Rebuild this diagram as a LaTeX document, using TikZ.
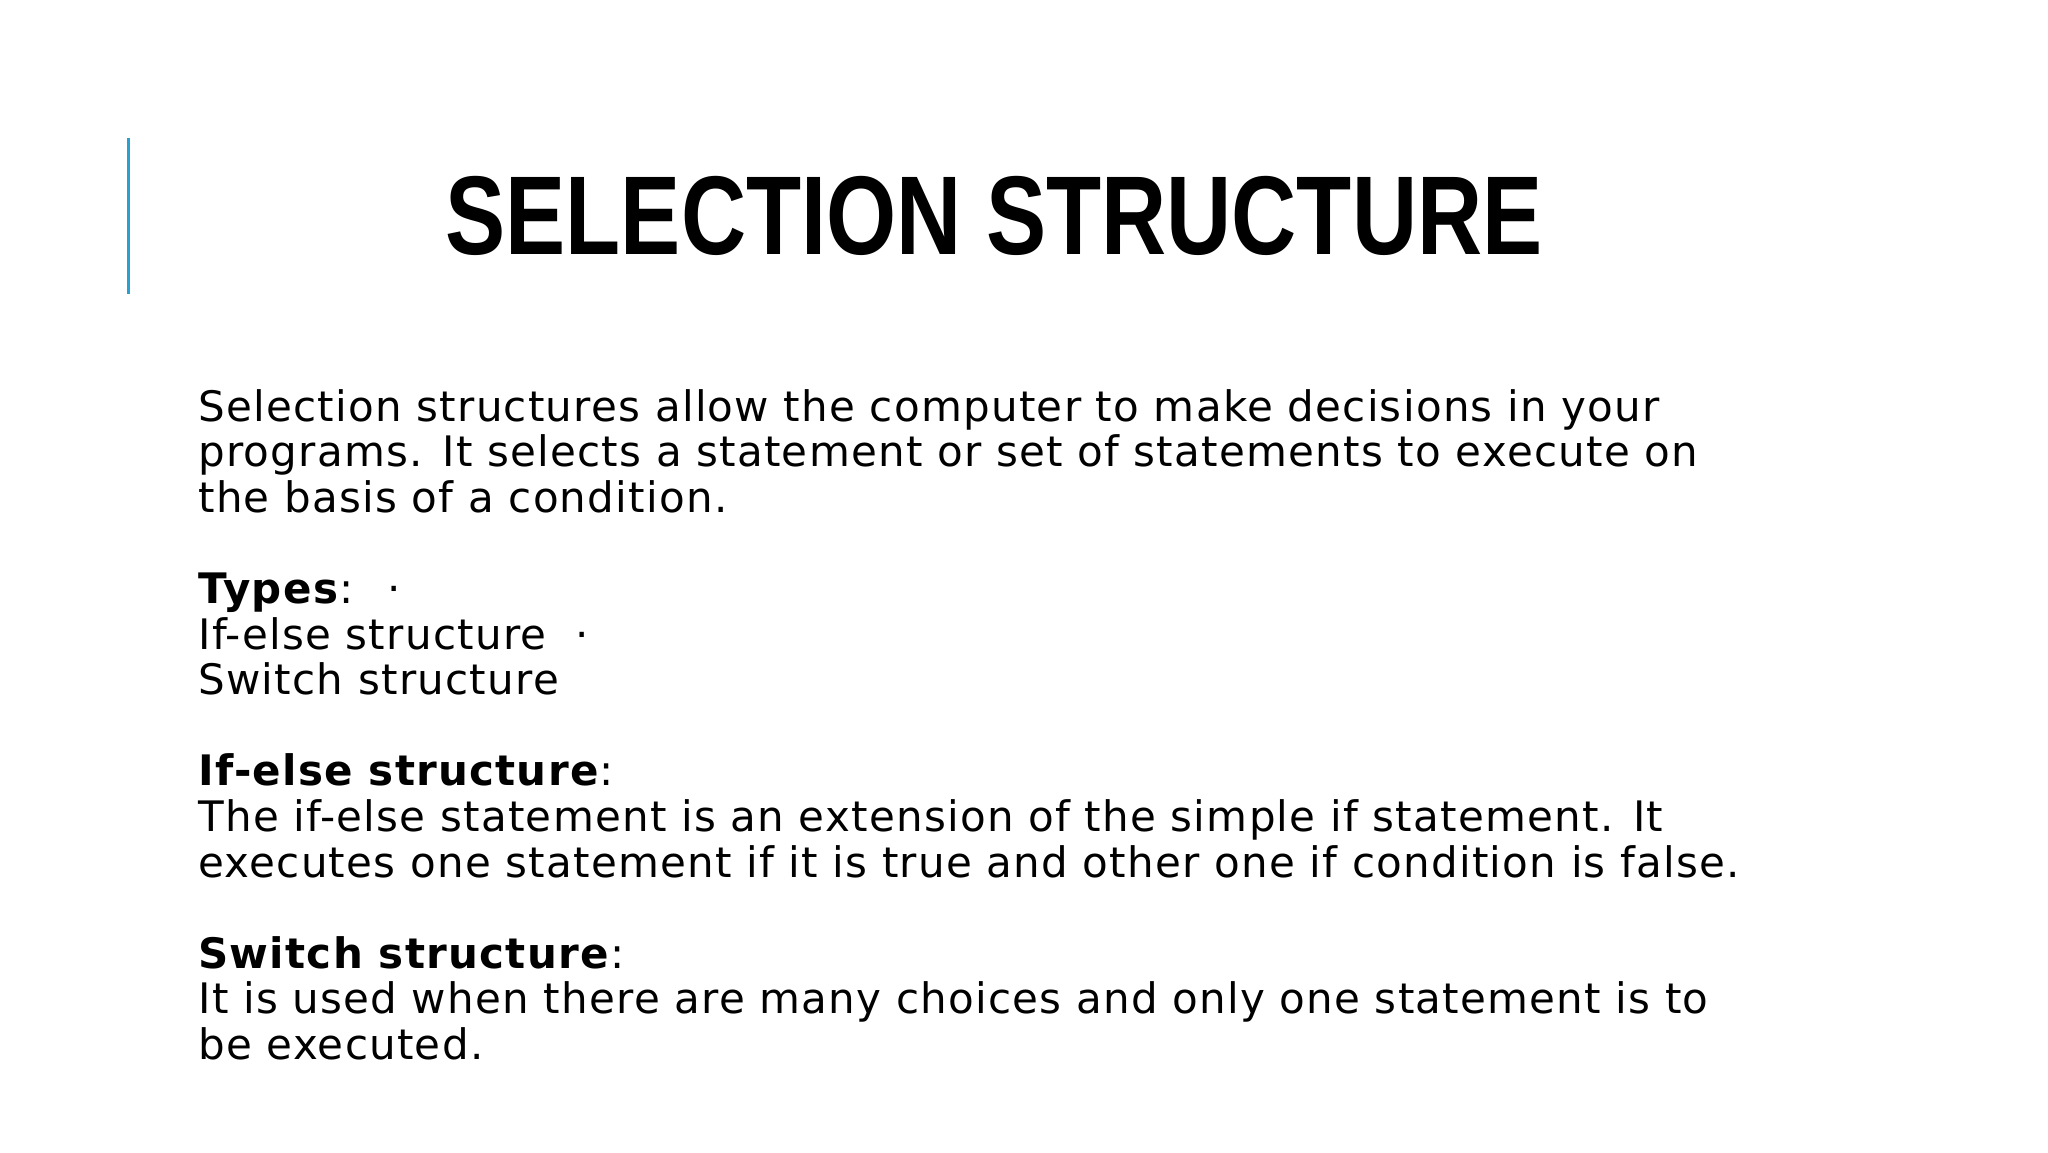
\documentclass[tikz,border=0pt]{standalone}
\usepackage{fontspec}
\setmainfont[LetterSpace=3]{DejaVu Sans}
\newfontfamily\titlefont{Liberation Sans}
\definecolor{accent}{HTML}{2AA0D0}
\begin{document}
\begin{tikzpicture}[x=1pt,y=-1pt,
  body/.style={anchor=base west,inner sep=0pt,font=\fontsize{21}{22.8}\selectfont}]
\useasboundingbox[fill=white] (0,0) rectangle (1024,576);
\draw[accent,line width=1.5pt] (64,69) -- (64,147);
\node[anchor=base,inner sep=0pt] (title) at (497,127)
  {\scalebox{0.805}[1]{\titlefont\bfseries\fontsize{56}{60}\selectfont SELECTION STRUCTURE}};
\foreach \t [count=\i] in {
 {Selection structures allow the computer to make decisions in your},
 {programs. It selects a statement or set of statements to execute on},
 {the basis of a condition.},
 {},
 {\textbf{Types}:~ ·},
 {If-else structure~ ·},
 {Switch structure},
 {},
 {\textbf{If-else structure}:},
 {The if-else statement is an extension of the simple if statement. It},
 {executes one statement if it is true and other one if condition is false.},
 {},
 {\textbf{Switch structure}:},
 {It is used when there are many choices and only one statement is to},
 {be executed.}}
 { \node[body] (l\i) at (99,{210.5+(\i-1)*22.8}) {\t}; }
\end{tikzpicture}
\end{document}
